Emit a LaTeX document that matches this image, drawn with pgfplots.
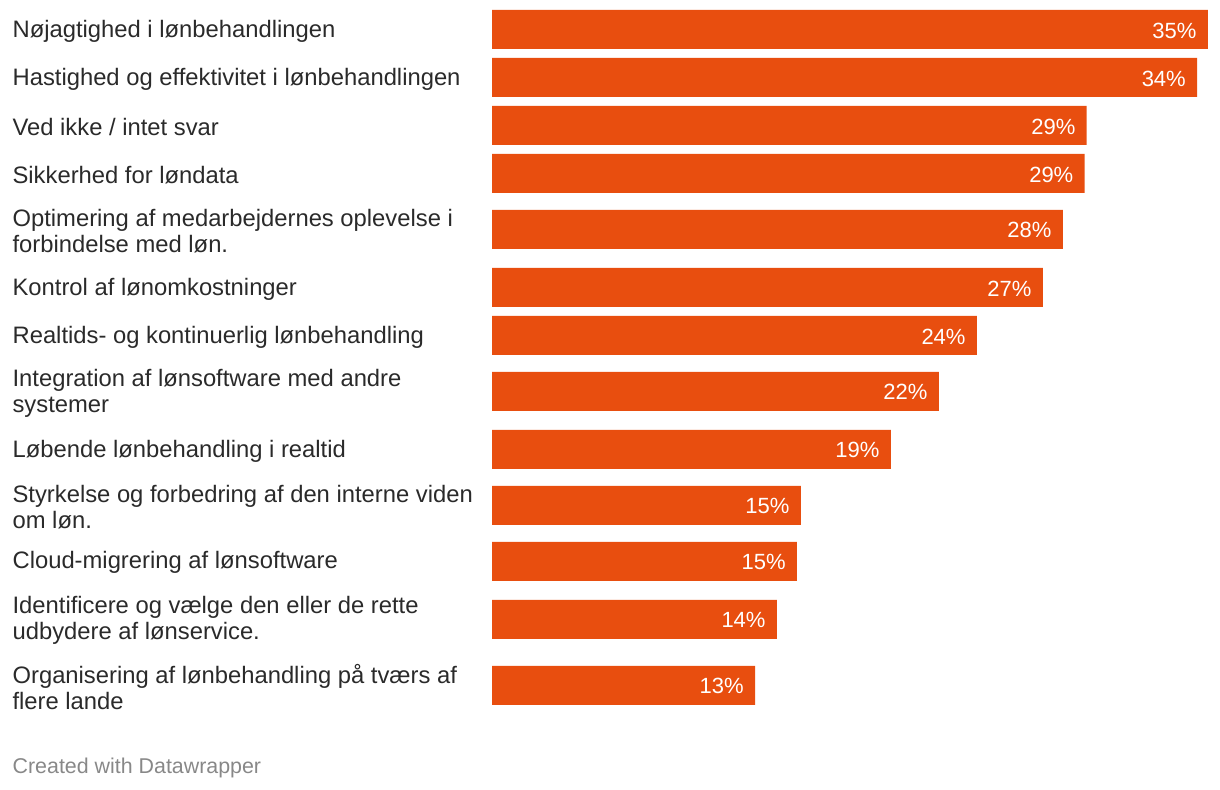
\documentclass[border=0pt]{standalone}
\usepackage{pgfplots}
\pgfplotsset{compat=1.18}
\usepackage{fontspec}
\setmainfont{Liberation Sans}
\definecolor{barc}{HTML}{E84E0F}
\definecolor{txt}{HTML}{2A2A2A}
\definecolor{foot}{HTML}{888888}
\begin{document}
\begin{tikzpicture}
\begin{axis}[
  width=610pt, height=395pt, scale only axis,
  xmin=-24.05, xmax=35.587,
  ymin=0, ymax=790, y dir=reverse,
  axis line style={draw=none},
  xtick=\empty,
  major tick length=0pt,
  clip=false,
  ytick={29.5,77.5,125.5,173.5,229.5,287.5,335.5,391.5,449.5,505.5,561.5,619.5,685.5},
  yticklabels={
    {Nøjagtighed i lønbehandlingen},
    {Hastighed og effektivitet i lønbehandlingen},
    {Ved ikke / intet svar},
    {Sikkerhed for løndata},
    {Optimering af medarbejdernes oplevelse i\\forbindelse med løn.},
    {Kontrol af lønomkostninger},
    {Realtids- og kontinuerlig lønbehandling},
    {Integration af lønsoftware med andre\\systemer},
    {Løbende lønbehandling i realtid},
    {Styrkelse og forbedring af den interne viden\\om løn.},
    {Cloud-migrering af lønsoftware},
    {Identificere og vælge den eller de rette\\udbydere af lønservice.},
    {Organisering af lønbehandling på tværs af\\flere lande}
  },
  yticklabel style={anchor=west, align=left, inner sep=0pt, xshift=6pt, yshift=-0.75pt,
    font=\fontsize{11.9}{13}\selectfont, text=txt},
  xbar, bar width=19.5pt,
  nodes near coords,
  point meta=explicit symbolic,
  nodes near coords style={anchor=east, xshift=-5.5pt, yshift=-0.5pt, text=white,
    font=\fontsize{11}{13}\selectfont, inner sep=0pt},
]
\addplot[fill=barc, draw=none] table[x=v, y=y, meta=lab] {
v y lab
35.00 29.5 35\%
34.48 77.5 34\%
29.08 125.5 29\%
28.98 173.5 29\%
27.91 229.5 28\%
26.93 287.5 27\%
23.71 335.5 24\%
21.85 391.5 22\%
19.50 449.5 19\%
15.10 505.5 15\%
14.91 561.5 15\%
13.93 619.5 14\%
12.86 685.5 13\%
};
\draw[draw=none] (rel axis cs:0,0) rectangle (rel axis cs:1,1);
\node[anchor=west, inner sep=0pt, text=foot, font=\fontsize{10.7}{12}\selectfont] at (axis cs:-23.46,768) {Created with Datawrapper};
\end{axis}
\end{tikzpicture}
\end{document}
